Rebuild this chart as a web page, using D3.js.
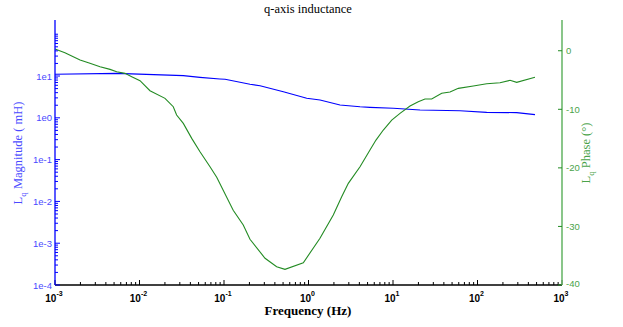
<!DOCTYPE html>
<html>
<head>
<meta charset="utf-8">
<script src="https://cdn.jsdelivr.net/npm/d3@7"></script>
<style>
  html, body { margin: 0; padding: 0; background: #fff; }
  svg { display: block; }
</style>
</head>
<body>
<svg id="chart" width="623" height="327"></svg>
<script>
// Frequency sweep of the q-axis inductance: magnitude (mH, log) and phase (degrees)
const magFreq = [0.001, 0.00537, 0.033, 0.052, 0.0893, 0.103, 0.203, 0.267, 0.504, 0.953,
                 1.37, 2.36, 4.07, 5.34, 10.1, 20.9, 62.1, 128.5, 291, 479];
const magValue = [11.0, 11.6, 10.2, 9.3, 8.5, 8.34, 6.33, 5.86, 4.21, 2.93,
                  2.67, 2.02, 1.84, 1.78, 1.69, 1.54, 1.48, 1.35, 1.33, 1.19];

const phaseFreq = [0.001, 0.00131, 0.00198, 0.00259, 0.00341, 0.00448, 0.00537, 0.00673, 0.00809, 0.01014,
                   0.0133, 0.02004, 0.0251, 0.0275, 0.033, 0.0415, 0.052, 0.0683, 0.082, 0.1285,
                   0.169, 0.203, 0.306, 0.420, 0.527, 0.868, 1.367, 1.965, 2.47, 2.96,
                   4.07, 5.34, 6.29, 7.68, 9.66, 12.1, 15.9, 19.9, 23.9, 28.7,
                   37.7, 47.3, 59.3, 89.2, 128.5, 184.6, 242.5, 291, 479];
const phaseValue = [0.3, -0.34, -1.59, -2.15, -2.73, -3.18, -3.59, -3.86, -4.44, -5.12,
                    -6.83, -8.13, -9.56, -10.98, -12.4, -14.96, -17.24, -19.81, -21.6, -27.23,
                    -29.76, -32.2, -35.44, -36.88, -37.32, -36.2, -32.03, -28.05, -24.93, -22.64,
                    -19.81, -16.95, -15.25, -13.54, -11.83, -10.69, -9.44, -8.71, -8.25, -8.25,
                    -7.27, -7.05, -6.42, -6.03, -5.63, -5.46, -5.05, -5.4, -4.54];

const freqTickExps = [-3, -2, -1, 0, 1, 2, 3];
const magTickExps = [-4, -3, -2, -1, 0, 1];
const phaseTicks = [0, -10, -20, -30, -40];

const svg = d3.select("#chart");
const plotLeft = 55, plotRight = 562, plotTop = 20, plotBottom = 285;

const x = d3.scaleLog().domain([1e-3, 1e3]).range([plotLeft, plotRight]);
const yMag = d3.scaleLog().domain([1e-4, 219]).range([plotBottom, plotTop]);
const yPh = d3.scaleLinear().domain([-40, 5.25]).range([plotBottom, plotTop]);

const blue = "#0000ff", blueText = "#4a4aff";
const green = "#238b23", greenAxis = "#6cb86c", greenText = "#4aa34a";

// minor tick positions for a log axis
function logMinors(e0, e1) {
  const out = [];
  for (let e = e0; e < e1; e++) for (let k = 2; k <= 9; k++) out.push(k * Math.pow(10, e));
  return out;
}

// title
svg.append("text").attr("x", 308).attr("y", 13).attr("text-anchor", "middle")
  .attr("font-family", "Liberation Serif, serif").attr("font-size", 12.5).attr("fill", "#000")
  .text("q-axis inductance");

// curves
const magLine = d3.line().x((d, i) => x(magFreq[i])).y(d => yMag(d));
svg.append("path").datum(magValue).attr("d", magLine)
  .attr("fill", "none").attr("stroke", blue).attr("stroke-width", 1.1);

const phLine = d3.line().x((d, i) => x(phaseFreq[i])).y(d => yPh(d));
svg.append("path").datum(phaseValue).attr("d", phLine)
  .attr("fill", "none").attr("stroke", green).attr("stroke-width", 1.1);

// x axis
const gx = svg.append("g");
gx.selectAll("line.minor").data(logMinors(-3, 3)).join("line").attr("class", "minor")
  .attr("x1", d => x(d)).attr("x2", d => x(d)).attr("y1", plotBottom).attr("y2", plotBottom - 3)
  .attr("stroke", "#000").attr("stroke-width", 1);
gx.selectAll("line.major").data(freqTickExps).join("line").attr("class", "major")
  .attr("x1", d => x(Math.pow(10, d))).attr("x2", d => x(Math.pow(10, d)))
  .attr("y1", plotBottom).attr("y2", plotBottom - 5).attr("stroke", "#000").attr("stroke-width", 1);
gx.append("line").attr("x1", plotLeft).attr("x2", plotRight).attr("y1", plotBottom).attr("y2", plotBottom)
  .attr("stroke", "#000").attr("stroke-width", 1.6);
const xl = gx.selectAll("text.xt").data(freqTickExps).join("text").attr("class", "xt")
  .attr("x", d => x(Math.pow(10, d)) - 1).attr("y", 302).attr("text-anchor", "middle")
  .attr("font-family", "Liberation Sans, Arial, sans-serif").attr("font-weight", "bold")
  .attr("font-size", 10).attr("fill", "#000");
xl.append("tspan").text("10");
xl.append("tspan").attr("dy", -6.5).attr("font-size", 7).text(d => d);

svg.append("text").attr("x", 308).attr("y", 315).attr("text-anchor", "middle")
  .attr("font-family", "Liberation Serif, serif").attr("font-size", 13).attr("font-weight", "bold")
  .attr("fill", "#000").text("Frequency (Hz)");

// left axis (magnitude)
const gy = svg.append("g");
gy.append("line").attr("x1", plotLeft).attr("x2", plotLeft).attr("y1", plotTop).attr("y2", plotBottom)
  .attr("stroke", blue).attr("stroke-width", 1.3);
gy.selectAll("line.minor").data(logMinors(-4, 2).concat([100])).join("line").attr("class", "minor")
  .attr("x1", plotLeft).attr("x2", plotLeft + 3).attr("y1", d => yMag(d)).attr("y2", d => yMag(d))
  .attr("stroke", blue).attr("stroke-width", 1);
gy.selectAll("line.major").data(magTickExps).join("line").attr("class", "major")
  .attr("x1", plotLeft).attr("x2", plotLeft + 5)
  .attr("y1", d => yMag(Math.pow(10, d))).attr("y2", d => yMag(Math.pow(10, d)))
  .attr("stroke", blue).attr("stroke-width", 1);
gy.selectAll("text.yt").data(magTickExps).join("text").attr("class", "yt")
  .attr("x", plotLeft - 3).attr("y", d => yMag(Math.pow(10, d)) + 3.5).attr("text-anchor", "end")
  .attr("font-family", "Liberation Sans, Arial, sans-serif").attr("font-size", 9.5)
  .attr("fill", blueText).text(d => "1e" + d);

const ylab = svg.append("text").attr("transform", "translate(22,153) rotate(-90)")
  .attr("text-anchor", "middle").attr("font-family", "Liberation Serif, serif")
  .attr("font-size", 12.5).attr("fill", blueText);
ylab.append("tspan").text("L");
ylab.append("tspan").attr("dy", 4).attr("font-size", 9).text("q");
ylab.append("tspan").attr("dy", -4).text(" Magnitude ( mH)");

// right axis (phase)
const gp = svg.append("g");
gp.append("line").attr("x1", plotRight).attr("x2", plotRight).attr("y1", plotTop).attr("y2", plotBottom)
  .attr("stroke", greenAxis).attr("stroke-width", 1.6);
gp.selectAll("line.pt").data(phaseTicks).join("line").attr("class", "pt")
  .attr("x1", plotRight - 4).attr("x2", plotRight).attr("y1", d => yPh(d)).attr("y2", d => yPh(d))
  .attr("stroke", green).attr("stroke-width", 1);
gp.selectAll("text.pl").data(phaseTicks).join("text").attr("class", "pl")
  .attr("x", plotRight + 4).attr("y", d => yPh(d) + (d === -40 ? 2 : 3.5))
  .attr("font-family", "Liberation Sans, Arial, sans-serif").attr("font-size", 9.5)
  .attr("fill", greenText).text(d => d);

const plab = svg.append("text").attr("transform", "translate(590,153) rotate(-90)")
  .attr("text-anchor", "middle").attr("font-family", "Liberation Serif, serif")
  .attr("font-size", 12.5).attr("fill", greenText);
plab.append("tspan").text("L");
plab.append("tspan").attr("dy", 4).attr("font-size", 9).text("q");
plab.append("tspan").attr("dy", -4).text(" Phase (°)");
</script>
</body>
</html>
